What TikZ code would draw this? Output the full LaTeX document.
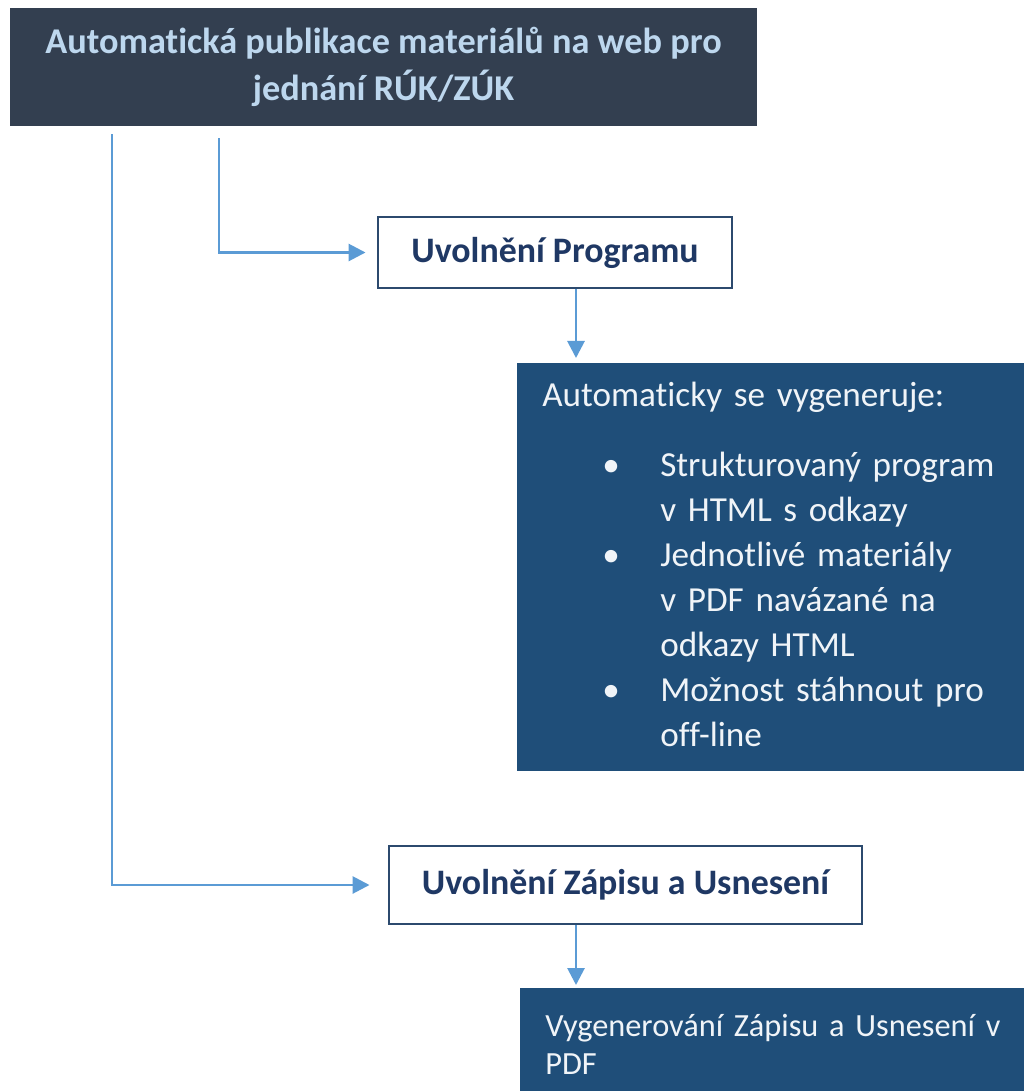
\documentclass[tikz,border=0pt]{standalone}
\usepackage{fontspec}
\setmainfont{Carlito}[Ligatures=NoCommon]
\usetikzlibrary{arrows.meta}

\definecolor{titlefill}{RGB}{51,63,80}
\definecolor{titletext}{RGB}{189,215,238}
\definecolor{boxline}{RGB}{44,74,110}
\definecolor{navytext}{RGB}{31,56,100}
\definecolor{genfill}{RGB}{31,78,121}
\definecolor{gentext}{RGB}{240,244,248}
\definecolor{flowblue}{RGB}{91,155,213}

\begin{document}
\begin{tikzpicture}[x=0.025cm, y=-0.025cm,
    headbox/.style ={rectangle, fill=titlefill, text=titletext, font=\bfseries\fontsize{25.8}{33.4}\selectfont,
                     align=center, minimum width=18.675cm, minimum height=2.95cm, inner sep=0pt},
    stagebox/.style ={rectangle, draw=boxline, line width=2pt, fill=white, text=navytext,
                     font=\bfseries\fontsize{25.5}{30}\selectfont, inner sep=0pt},
    genbox/.style ={rectangle, fill=genfill, text=gentext, anchor=north west, align=left,
                     inner xsep=0.625cm, inner ysep=0pt},
    flow/.style ={draw=flowblue, line width=2pt, -{Triangle[length=0.425cm, width=0.425cm]}}]
   \useasboundingbox (0,0) rectangle (1024,1091);
   \clip (0,0) rectangle (1024,1091);

   \node[headbox] (T) at (383.5,67) {Automatická publikace materiálů na web pro\\jednání RÚK/ZÚK};
   \node[stagebox, minimum width=8.85cm, minimum height=1.775cm] (P) at (555,252.5) {Uvolnění Programu};
   \node[genbox, text width=12cm, minimum height=10.2cm, font=\fontsize{25}{32}\selectfont] (G) at (517,363)
      {\begin{tabular}{@{}p{2.95cm}@{}l@{}}
        \multicolumn{2}{@{}l@{}}{Automaticky se vygeneruje:}\\[0.625cm]
        \hspace*{1.5cm}\textbullet & Strukturovaný program\\
         & v HTML s odkazy\\
        \hspace*{1.5cm}\textbullet & Jednotlivé materiály\\
         & v PDF navázané na\\
         & odkazy HTML\\
        \hspace*{1.5cm}\textbullet & Možnost stáhnout pro\\
         & off-line
       \end{tabular}};
   \node[stagebox, minimum width=11.825cm, minimum height=1.95cm] (Z) at (625.5,885) {Uvolnění Zápisu a Usnesení};
   \node[genbox, text width=12cm, minimum height=2.8cm, font=\fontsize{23}{27}\selectfont] (V) at (520,988)
      {Vygenerování Zápisu a Usnesení v\\PDF};

   \coordinate (l0) at (112,0);
   \coordinate (r0) at (219,0);
   \coordinate (d0) at (576,0);

   \draw[flow, shorten <=0.2cm, shorten >=0.45cm] (T.south -| l0) |- (Z.west);
   \draw[flow, shorten <=0.3cm, shorten >=0.275cm] (T.south -| r0) |- (P.west);
   \draw[flow, shorten >=0.125cm] (P.south -| d0) to (G.north -| d0);
   \draw[flow, shorten >=0.075cm] (Z.south -| d0) to (V.north -| d0);
 \end{tikzpicture}
\end{document}
